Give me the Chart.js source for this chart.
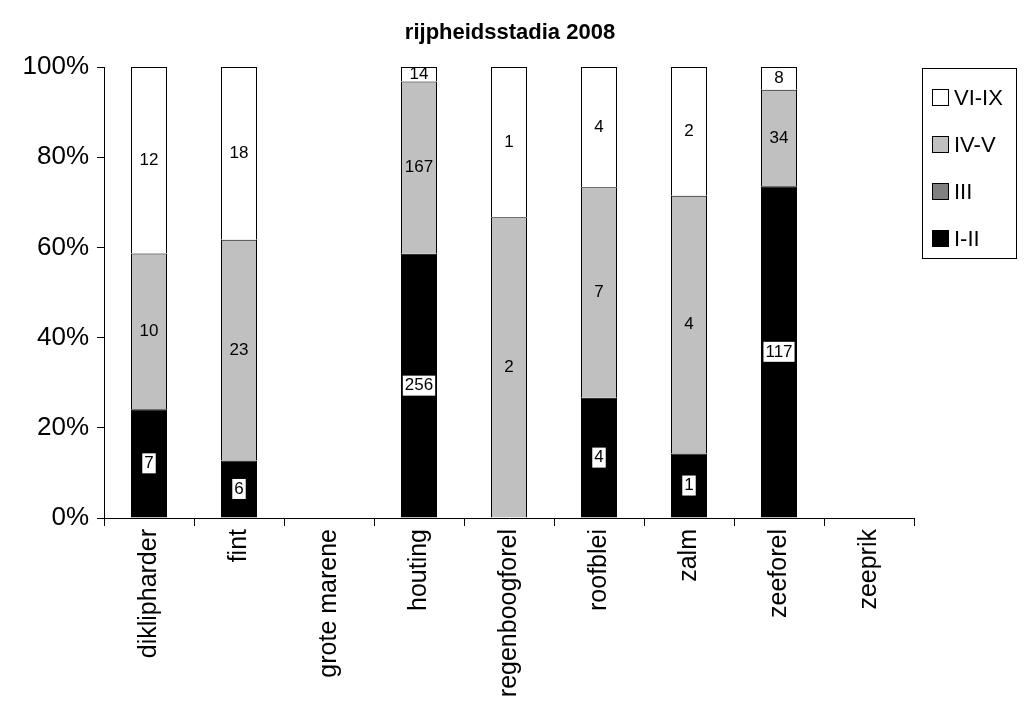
<!DOCTYPE html>
<html>
<head>
<meta charset="utf-8">
<script src="https://cdn.jsdelivr.net/npm/chart.js@4/dist/chart.umd.min.js"></script>
<style>
  html, body { margin: 0; padding: 0; background: #fff; }
  #wrap { width: 1024px; height: 704px; }
</style>
</head>
<body>
<div id="wrap"><canvas id="chart" width="1024" height="704"></canvas></div>
<script>
const categories = ['diklipharder', 'fint', 'grote marene', 'houting', 'regenboogforel', 'roofblei', 'zalm', 'zeeforel', 'zeeprik'];
const stageI_II = [7, 6, 0, 256, 0, 4, 1, 117, 0];
const stageIII = [0, 0, 0, 0, 0, 0, 0, 0, 0];
const stageIV_V = [10, 23, 0, 167, 2, 7, 4, 34, 0];
const stageVI_IX = [12, 18, 0, 14, 1, 4, 2, 8, 0];
const titleText = 'rijpheidsstadia 2008';

const totals = categories.map((c, i) => stageI_II[i] + stageIII[i] + stageIV_V[i] + stageVI_IX[i]);
function pct(arr) { return arr.map((v, i) => totals[i] ? v / totals[i] * 100 : 0); }

const series = [
    { label: 'I-II', counts: stageI_II, color: '#000000', labelBox: true },
    { label: 'III', counts: stageIII, color: '#808080' },
    { label: 'IV-V', counts: stageIV_V, color: '#c0c0c0' },
    { label: 'VI-IX', counts: stageVI_IX, color: '#ffffff' }
];
const FONT = '"Liberation Sans", Arial, sans-serif';

// writes the counts in the middle of each segment
const countLabels = {
    id: 'countLabels',
    afterDatasetsDraw(chart)
    {
        const ctx = chart.ctx;
        ctx.save();
        ctx.font = '17px ' + FONT;
        ctx.textAlign = 'center';
        ctx.textBaseline = 'middle';
        chart.data.datasets.forEach((ds, di) =>
        {
            chart.getDatasetMeta(di).data.forEach((bar, i) =>
            {
                const n = ds.counts[i];
                if (!n) return;
                const y = (bar.y + bar.base) / 2;
                const text = String(n);
                if (ds.labelBox)
                {
                    const w = ctx.measureText(text).width + 4;
                    ctx.fillStyle = '#fff';
                    ctx.fillRect(bar.x - w / 2, y - 10, w, 20);
                }
                ctx.fillStyle = '#000';
                ctx.fillText(text, bar.x, y);
            });
        });
        ctx.restore();
    }
};

// title centred on the page, legend box on the right
const boxLegend = {
    id: 'boxLegend',
    afterDraw(chart)
    {
        const ctx = chart.ctx;
        const a = chart.chartArea;
        ctx.save();
        ctx.fillStyle = '#000';
        ctx.font = 'bold 22px ' + FONT;
        ctx.textAlign = 'center';
        ctx.textBaseline = 'middle';
        ctx.fillText(titleText, 510, 33);

        const left = a.right + 8, top = a.top + 1;
        ctx.textAlign = 'left';
        ctx.strokeStyle = '#000';
        ctx.lineWidth = 1;
        ctx.strokeRect(left + 0.5, top + 0.5, 94, 190);
        ctx.font = '22px ' + FONT;
        const items = chart.data.datasets.slice().reverse();
        items.forEach((ds, k) =>
        {
            const cy = top + 30 + k * 47;
            ctx.fillStyle = ds.backgroundColor;
            ctx.fillRect(left + 10.5, cy - 8.5, 16, 16);
            ctx.strokeRect(left + 10.5, cy - 8.5, 16, 16);
            ctx.fillStyle = '#000';
            ctx.fillText(ds.label, left + 32, cy + 1);
        });
        ctx.restore();
    }
};

new Chart(document.getElementById('chart').getContext('2d'), {
    type: 'bar',
    data: {
        labels: categories,
        datasets: series.map(s => ({
            label: s.label,
            counts: s.counts,
            labelBox: s.labelBox,
            data: pct(s.counts),
            backgroundColor: s.color,
            borderColor: '#000',
            borderWidth: 1,
            barPercentage: 0.4,
            categoryPercentage: 1
        }))
    },
    options: {
        responsive: false,
        animation: false,
        layout: { padding: { left: 0, right: 110, top: 67, bottom: 0 } },
        plugins: {
            title: { display: false },
            legend: { display: false },
            tooltip: { enabled: false }
        },
        scales: {
            x: {
                stacked: true,
                grid: { display: true, drawOnChartArea: false, tickLength: 8, color: '#000' },
                border: { color: '#000' },
                afterFit: s => { s.height = 186; },
                ticks: {
                    color: '#000',
                    maxRotation: 90,
                    minRotation: 90,
                    font: { family: FONT, size: 25 }
                }
            },
            y: {
                stacked: true,
                min: 0,
                max: 100,
                grid: { display: true, drawOnChartArea: false, tickLength: 7, color: '#000' },
                border: { color: '#000' },
                afterFit: s => { s.width = 104; },
                ticks: {
                    stepSize: 20,
                    color: '#000',
                    padding: 8,
                    callback: v => v + '%',
                    font: { family: FONT, size: 26 }
                }
            }
        }
    },
    plugins: [countLabels, boxLegend]
});
</script>
</body>
</html>
